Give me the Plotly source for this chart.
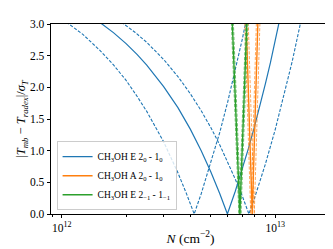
import plotly.graph_objects as go

# ---- data ----
# CH3OH E 2_0 - 1_0 (blue)
N_E_best = [1.5e12, 1.75e12, 2.0e12, 2.25e12, 2.5e12, 2.75e12, 3.0e12, 3.5e12, 4.0e12, 4.5e12, 5.0e12,
            5.5e12, 5.97e12, 6.5e12, 7.0e12, 7.5e12, 8.0e12, 8.5e12, 9.0e12, 9.5e12, 1.0e13, 1.05e13]
Y_E_best = [3.03, 2.86, 2.69, 2.52, 2.35, 2.18, 2.01, 1.68, 1.34, 1.00, 0.66,
            0.32, 0.0, 0.36, 0.70, 1.04, 1.38, 1.72, 2.06, 2.39, 2.73, 3.07]
N_E_low = [1.05e12, 1.15e12, 1.25e12, 1.375e12, 1.5e12, 1.75e12, 2.0e12, 2.25e12, 2.5e12, 3.0e12, 3.5e12,
           3.85e12, 4.17e12, 4.5e12, 5.0e12, 5.5e12, 6.0e12, 6.5e12, 7.0e12, 7.4e12]
Y_E_low = [3.03, 2.93, 2.84, 2.71, 2.59, 2.35, 2.11, 1.86, 1.62, 1.14, 0.65,
           0.31, 0.0, 0.32, 0.81, 1.29, 1.78, 2.26, 2.75, 3.14]
N_E_high = [1.9e12, 2.2e12, 2.5e12, 3.0e12, 3.5e12, 4.0e12, 4.5e12, 5.0e12, 5.5e12, 6.0e12, 6.5e12, 7.0e12,
            7.53e12, 8.0e12, 9.0e12, 1.0e13, 1.1e13, 1.2e13, 1.3e13, 1.33e13]
Y_E_high = [3.03, 2.87, 2.71, 2.44, 2.17, 1.90, 1.63, 1.36, 1.09, 0.82, 0.55, 0.29,
            0.0, 0.25, 0.79, 1.33, 1.87, 2.40, 2.94, 3.10]

# CH3OH A 2_0 - 1_0 (orange)
N_A_best = [7.302e12, 7.806e12, 8.31e12]
N_A_low = [7.184e12, 7.68e12, 8.176e12]
N_A_high = [7.465e12, 7.98e12, 8.495e12]
Y_A = [3.1, 0.0, 3.1]

# CH3OH E 2_-1 - 1_-1 (green)
N_E2_best = [6.28e12, 6.83e12, 7.38e12]
N_E2_low = [6.216e12, 6.76e12, 7.304e12]
N_E2_high = [6.354e12, 6.91e12, 7.466e12]
Y_E2 = [3.1, 0.0, 3.1]

labels = ["CH<sub>3</sub>OH E 2<sub>0</sub> - 1<sub>0</sub>",
          "CH<sub>3</sub>OH A 2<sub>0</sub> - 1<sub>0</sub>",
          "CH<sub>3</sub>OH E 2<sub>\u22121</sub> - 1<sub>\u22121</sub>"]
colors = ["#1f77b4", "#ff7f0e", "#2ca02c"]

x_major = [1e12, 1e13]
x_major_text = ["10<sup>12</sup>", "10<sup>13</sup>"]
x_minor = [9e11, 2e12, 3e12, 4e12, 5e12, 6e12, 7e12, 8e12, 9e12]
y_ticks = [0.0, 0.5, 1.0, 1.5, 2.0, 2.5, 3.0]

FONT = "Liberation Serif, Times New Roman, serif"

fig = go.Figure()

groups = [
    (N_E_best, Y_E_best, N_E_low, Y_E_low, N_E_high, Y_E_high, 1.2, 1.1, "rgba(31,119,180,1)"),
    (N_A_best, Y_A, N_A_low, Y_A, N_A_high, Y_A, 1.4, 0.9, "rgba(255,127,14,0.75)"),
    (N_E2_best, Y_E2, N_E2_low, Y_E2, N_E2_high, Y_E2, 1.4, 0.9, "rgba(44,160,44,0.75)"),
]
for i, (nb, yb, nl, yl, nh, yh, wsolid, wdash, dcol) in enumerate(groups):
    c = colors[i]
    dash = "3.2px,1.6px"
    fig.add_trace(go.Scatter(x=nl, y=yl, mode="lines", legendgroup=str(i), showlegend=False,
                             line=dict(color=dcol, width=wdash, dash=dash)))
    fig.add_trace(go.Scatter(x=nh, y=yh, mode="lines", legendgroup=str(i), showlegend=False,
                             line=dict(color=dcol, width=wdash, dash=dash)))
    fig.add_trace(go.Scatter(x=nb, y=yb, mode="lines", legendgroup=str(i), name=labels[i],
                             line=dict(color=c, width=wsolid)))

fig.update_layout(
    width=333, height=249,
    margin=dict(l=43, r=10, t=11, b=43),
    paper_bgcolor="white", plot_bgcolor="white",
    font=dict(family=FONT, size=11.5, color="black"),
    showlegend=True,
    legend=dict(x=0.02, y=0.02, xanchor="left", yanchor="bottom",
                bgcolor="rgba(255,255,255,0.8)", bordercolor="#cccccc", borderwidth=1,
                font=dict(family=FONT, size=9.5), itemwidth=30,
                tracegroupgap=0, traceorder="normal"),
    xaxis=dict(type="log", range=[11.949, 13.257],
               tickmode="array", tickvals=x_major, ticktext=x_major_text,
               ticks="outside", ticklen=3.5, tickwidth=0.8, tickcolor="black",
               minor=dict(tickmode="array", tickvals=x_minor, ticks="outside", ticklen=2,
                          tickwidth=0.6, tickcolor="black", showgrid=False),
               showline=True, linecolor="black", linewidth=0.8, mirror=True,
               showgrid=False, zeroline=False,
               tickfont=dict(size=11.5),
               title=dict(text="<i>N</i> (cm<sup>\u22122</sup>)", font=dict(size=13.5), standoff=0)),
    yaxis=dict(range=[0, 3], tickmode="array", tickvals=y_ticks,
               ticktext=[f"{v:.1f}" for v in y_ticks],
               ticks="outside", ticklen=3.5, tickwidth=0.8, tickcolor="black",
               showline=True, linecolor="black", linewidth=0.8, mirror=True,
               showgrid=False, zeroline=False,
               tickfont=dict(size=11.5),
               title=dict(text="|<i>T</i><sub><i>mb</i></sub> \u2212 <i>T</i><sub><i>radex</i></sub>|/<i>\u03c3</i><sub><i>T</i></sub>",
                          font=dict(size=12.5), standoff=0)),
)

fig.write_html("out.html")
